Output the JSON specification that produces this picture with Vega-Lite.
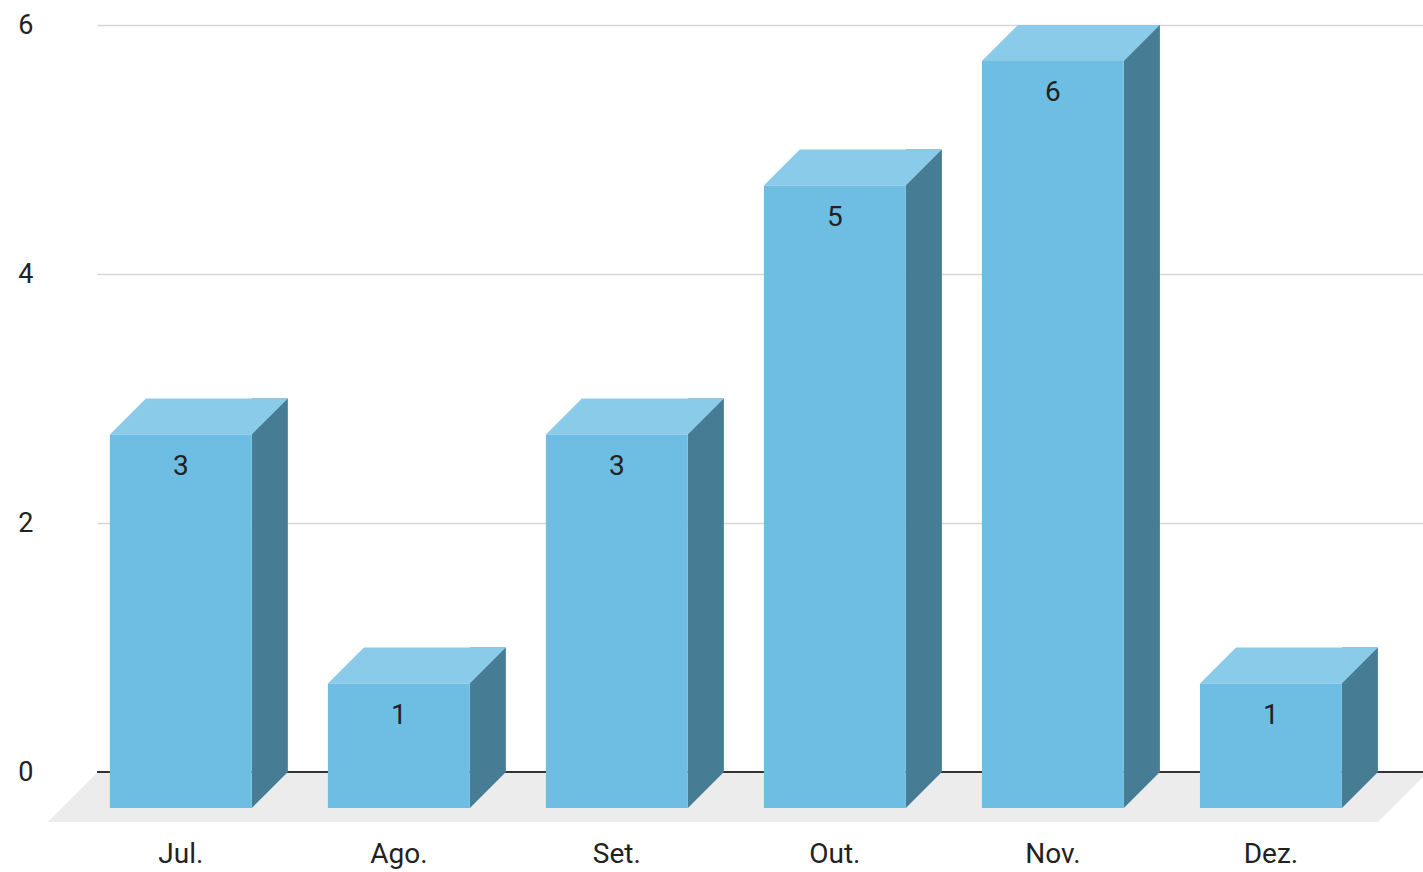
{
  "$schema": "https://vega.github.io/schema/vega-lite/v6.json",
  "width": 1326,
  "height": 747,
  "autosize": {"type": "none"},
  "padding": {"left": 97, "top": 25, "right": 0, "bottom": 100},
  "background": "white",
  "config": {
    "view": {"stroke": null},
    "font": "Roboto",
    "axisX": {"domain": false, "ticks": false, "grid": false, "labelFontSize": 28, "labelColor": "#222222", "labelPadding": 68, "labelOffset": -36, "labelAngle": 0, "labelFont": "Roboto"},
    "axisY": {"domain": false, "ticks": false, "grid": true, "gridColor": "#d6d6d6", "gridWidth": 1.5, "labelFontSize": 27, "labelColor": "#222222", "labelPadding": 64, "labelFont": "Roboto", "format": "d"}
  },
  "data": {
    "values": [
      {"m": "Jul.", "v": 3},
      {"m": "Ago.", "v": 1},
      {"m": "Set.", "v": 3},
      {"m": "Out.", "v": 5},
      {"m": "Nov.", "v": 6},
      {"m": "Dez.", "v": 1}
    ]
  },
  "layer": [
    {
      "mark": {"type": "point", "shape": "M-120,1L120,1L71,50L-169,50Z", "size": 4, "filled": true, "opacity": 1, "strokeWidth": 0, "color": "#ececec"},
      "encoding": {
        "x": {"field": "m", "type": "nominal", "sort": null, "title": null, "scale": {"paddingInner": 0.349, "paddingOuter": 0.2156, "align": 0.52}},
        "y": {"datum": 0, "type": "quantitative", "scale": {"domain": [0, 6], "nice": false}, "axis": {"values": [0, 2, 4, 6], "format": "d"}, "title": null}
      }
    },
    {
      "mark": {"type": "rule", "color": "#333333", "strokeWidth": 2},
      "encoding": {"y": {"datum": 0, "type": "quantitative"}}
    },
    {
      "mark": {"type": "bar", "width": 36, "xOffset": 53, "color": "#467c94"},
      "encoding": {
        "x": {"field": "m", "type": "nominal", "sort": null, "title": null},
        "y": {"field": "v", "type": "quantitative", "title": null}
      }
    },
    {
      "mark": {"type": "point", "shape": "M35,0L71,0L35,36Z", "size": 4, "filled": true, "opacity": 1, "strokeWidth": 0, "color": "#467c94"},
      "encoding": {
        "x": {"field": "m", "type": "nominal", "sort": null, "title": null},
        "y": {"datum": 0, "type": "quantitative"}
      }
    },
    {
      "mark": {"type": "point", "shape": "M-71,0L71,0L35,36L-107,36Z", "size": 4, "filled": true, "opacity": 1, "strokeWidth": 0, "color": "#8acbe9"},
      "encoding": {
        "x": {"field": "m", "type": "nominal", "sort": null, "title": null},
        "y": {"field": "v", "type": "quantitative", "title": null}
      }
    },
    {
      "mark": {"type": "bar", "xOffset": -36, "yOffset": 36, "y2Offset": 36, "color": "#6dbee2"},
      "encoding": {
        "x": {"field": "m", "type": "nominal", "sort": null, "title": null},
        "y": {"field": "v", "type": "quantitative", "title": null}
      }
    },
    {
      "mark": {"type": "text", "xOffset": -36, "yOffset": 68, "baseline": "middle", "fontSize": 28, "color": "#222222", "font": "Roboto"},
      "encoding": {
        "x": {"field": "m", "type": "nominal", "sort": null, "title": null},
        "y": {"field": "v", "type": "quantitative", "title": null},
        "text": {"field": "v", "type": "quantitative"}
      }
    }
  ]
}
